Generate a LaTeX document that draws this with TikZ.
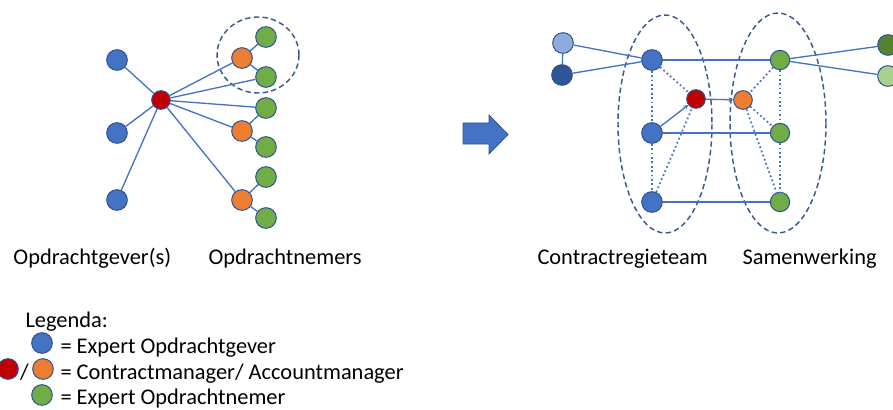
\documentclass[tikz,border=0pt]{standalone}
\usepackage{fontspec}
\setmainfont{Carlito}
\usetikzlibrary{arrows.meta}
\definecolor{nodeblue}{HTML}{4472C4}
\definecolor{rimblue}{HTML}{2F528F}
\definecolor{lightblue}{HTML}{8FAADC}
\definecolor{darkblue}{HTML}{2F5597}
\definecolor{cmred}{HTML}{C00000}
\definecolor{amorange}{HTML}{ED7D31}
\definecolor{ongreen}{HTML}{70AD47}
\definecolor{darkgreen}{HTML}{548235}
\definecolor{lightgreen}{HTML}{A9D18E}
\definecolor{groupblue}{HTML}{3A5A8C}
\tikzset{every picture/.style={line width=0.75pt}}

\begin{document}
\begin{tikzpicture}[x=0.75pt,y=0.75pt,yscale=-1,xscale=1,
  dot/.style={circle,draw=rimblue,line width=0.75pt,inner sep=0pt,minimum size=15.5pt},
  link/.style={draw=nodeblue,line width=1pt},
  weak/.style={draw=nodeblue,line width=1.3pt,dotted},
  group/.style={draw=groupblue,line width=1.1pt,dash pattern=on 4pt off 2.5pt},
  lbl/.style={anchor=base west,inner sep=0pt,font=\fontsize{16.8}{19}\selectfont}]
\useasboundingbox (0,0) rectangle (893,410);

%Shape: Ellipse (team, left)
\draw [group] (258,55) ellipse (41 and 38);
%Shape: Ellipse (contractregieteam)
\draw [group] (665,124) ellipse (47 and 109);
%Shape: Ellipse (samenwerking)
\draw [group] (778,123) ellipse (48 and 110);

%Shape: Circles, left
\node (og1) [dot,fill=nodeblue] at (117,60) {};
\node (og2) [dot,fill=nodeblue] at (117,133) {};
\node (og3) [dot,fill=nodeblue] at (117,200) {};
\node (cm) [dot,fill=cmred,minimum size=14pt] at (161,100) {};
\node (am1) [dot,fill=amorange] at (242,58) {};
\node (am2) [dot,fill=amorange] at (242,131) {};
\node (am3) [dot,fill=amorange] at (242,200) {};
\node (on1) [dot,fill=ongreen] at (266,37) {};
\node (on2) [dot,fill=ongreen] at (266,77) {};
\node (on3) [dot,fill=ongreen] at (266,108) {};
\node (on4) [dot,fill=ongreen] at (266,147) {};
\node (on5) [dot,fill=ongreen] at (266,177) {};
\node (on6) [dot,fill=ongreen] at (266,218) {};

%Straight Lines, left
\foreach \n in {og1,og2,og3,am1,on2,on3,am2,am3}
  \draw [link] (cm) -- (\n);
\draw [link] (am1) -- (on1);
\draw [link] (am1) -- (on2);
\draw [link] (am2) -- (on3);
\draw [link] (am2) -- (on4);
\draw [link] (am3) -- (on5);
\draw [link] (am3) -- (on6);

%Shape: Block Arrow
\draw [fill=nodeblue,draw=rimblue,line width=0.6pt] (463,123) -- (489,123) -- (489,115) -- (508,134.5) -- (489,154) -- (489,144) -- (463,144) -- cycle;

%Shape: Circles, right
\node (ogl) [dot,fill=lightblue] at (563,43) {};
\node (ogd) [dot,fill=darkblue] at (562,75) {};
\node (t1) [dot,fill=nodeblue] at (652,60) {};
\node (t2) [dot,fill=nodeblue] at (652,133) {};
\node (t3) [dot,fill=nodeblue] at (652,202) {};
\node (cm2) [dot,fill=cmred,minimum size=14pt] at (696,99) {};
\node (am4) [dot,fill=amorange,minimum size=14pt] at (743,100) {};
\node (s1) [dot,fill=ongreen,minimum size=14.5pt] at (780,60) {};
\node (s2) [dot,fill=ongreen,minimum size=14.5pt] at (780,133) {};
\node (s3) [dot,fill=ongreen,minimum size=14.5pt] at (780,202) {};
\node (ond) [dot,fill=darkgreen] at (888,45) {};
\node (onl) [dot,fill=lightgreen] at (888,76) {};

%Straight Lines, right
\draw [link] (ogl) -- (ogd);
\draw [link] (ogl) -- (t1);
\draw [link] (ogd) -- (t1);
\draw [link] (t1) -- (s1);
\draw [link] (s1) -- (ond);
\draw [link] (s1) -- (onl);
\draw [link] (t2) -- (s2);
\draw [link] (t3) -- (s3);
\draw [link,-{Stealth[length=3.5pt,width=3.5pt]}] (cm2) -- (am4);
\draw [link,-{Stealth[length=3.5pt,width=3.5pt]}] (t2) -- (cm2);
%Dotted Lines
\draw [weak] (t1) -- (t2);
\draw [weak] (t2) -- (t3);
\draw [weak] (t1) -- (cm2);
\draw [weak] (t3) -- (cm2);
\draw [weak] (s1) -- (s2);
\draw [weak] (s2) -- (s3);
\draw [weak] (s1) -- (am4);
\draw [weak] (am4) -- (s2);
\draw [weak] (am4) -- (s3);

% Text Node
\node (gever) [lbl] at (13,264) {Opdrachtgever(s)};
% Text Node
\node (nemers) [lbl] at (208,264) {Opdrachtnemers};
% Text Node
\node (regie) [lbl] at (537,264) {Contractregieteam};
% Text Node
\node (samen) [lbl] at (742,264) {Samenwerking};

%Legend
\node (legenda) [lbl] at (25,327) {Legenda:};
\node (keyog) [dot,fill=nodeblue] at (42,343) {};
\node (keycm) [dot,fill=cmred] at (8,369) {};
\node (keyam) [dot,fill=amorange] at (43,369) {};
\node (keyon) [dot,fill=ongreen] at (42,395) {};
\node (slash) [lbl,anchor=base] at (24.5,379) {/};
\node (txtog) [lbl] at (60,353) {= Expert Opdrachtgever};
\node (txtcm) [lbl] at (60,379) {= Contractmanager/ Accountmanager};
\node (txton) [lbl] at (60,404) {= Expert Opdrachtnemer};

\end{tikzpicture}
\end{document}
